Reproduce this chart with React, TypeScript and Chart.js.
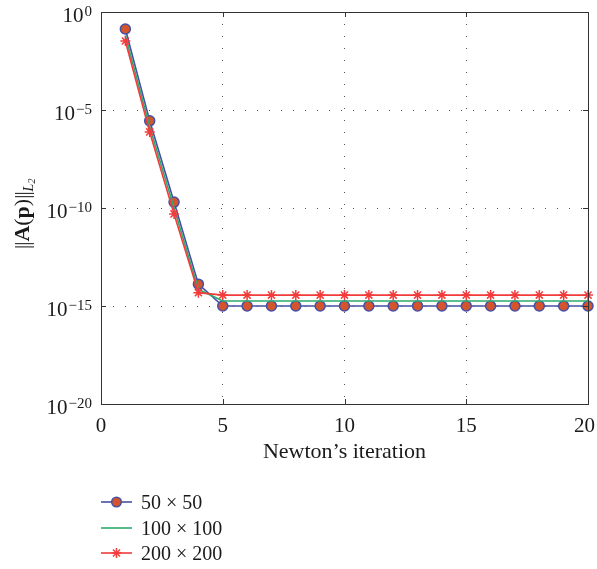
import React, { useEffect, useRef } from 'react';
import { Chart, registerables } from 'chart.js';

Chart.register(...registerables);

// ---- data ----
const iterations = [1, 2, 3, 4, 5, 6, 7, 8, 9, 10, 11, 12, 13, 14, 15, 16, 17, 18, 19, 20];
const res50 = [1.35e-1, 2.8e-6, 2.0e-10, 1.3e-14, 1.0e-15, 1.0e-15, 1.0e-15, 1.0e-15, 1.0e-15, 1.0e-15,
  1.0e-15, 1.0e-15, 1.0e-15, 1.0e-15, 1.0e-15, 1.0e-15, 1.0e-15, 1.0e-15, 1.0e-15, 1.0e-15];
const res100 = [6.3e-2, 1.4e-6, 1.0e-10, 7.1e-15, 1.8e-15, 1.8e-15, 1.8e-15, 1.8e-15, 1.8e-15, 1.8e-15,
  1.8e-15, 1.8e-15, 1.8e-15, 1.8e-15, 1.8e-15, 1.8e-15, 1.8e-15, 1.8e-15, 1.8e-15, 1.8e-15];
const res200 = [3.3e-2, 7.6e-7, 5.0e-11, 4.8e-15, 3.6e-15, 3.6e-15, 3.6e-15, 3.6e-15, 3.6e-15, 3.6e-15,
  3.6e-15, 3.6e-15, 3.6e-15, 3.6e-15, 3.6e-15, 3.6e-15, 3.6e-15, 3.6e-15, 3.6e-15, 3.6e-15];
const xTickValues = [0, 5, 10, 15, 20];
const yTickExponents = [0, -5, -10, -15, -20];
const seriesLabels = ['50 \u00d7 50', '100 \u00d7 100', '200 \u00d7 200'];
const xTitle = 'Newton\u2019s iteration';

const BLUE = '#4550a6';
const ORANGE = '#d4542b';
const GREEN = '#2eaa6c';
const RED = '#f23c3c';
const AXIS = '#333333';
const SERIF = '"Liberation Serif", "Times New Roman", serif';

function drawStar(ctx: CanvasRenderingContext2D, x: number, y: number, r: number) {
  for (let k = 0; k < 4; k++) {
    const a = (k * Math.PI) / 4;
    ctx.beginPath();
    ctx.moveTo(x - r * Math.cos(a), y - r * Math.sin(a));
    ctx.lineTo(x + r * Math.cos(a), y + r * Math.sin(a));
    ctx.stroke();
  }
}

const decorPlugin = {
  id: 'decor',
  afterDraw(chart: any) {
    const ctx: CanvasRenderingContext2D = chart.ctx;
    const { left, right, top, bottom } = chart.chartArea;
    const xs = chart.scales.x;
    const ys = chart.scales.y;
    ctx.save();
    // frame
    ctx.strokeStyle = AXIS;
    ctx.lineWidth = 1;
    ctx.setLineDash([]);
    ctx.strokeRect(Math.round(left) + 0.5, Math.round(top) + 0.5, Math.round(right - left), Math.round(bottom - top));
    // inward ticks
    const tl = 5;
    ctx.beginPath();
    xTickValues.forEach((v) => {
      const px = Math.round(xs.getPixelForValue(v)) + 0.5;
      ctx.moveTo(px, bottom);
      ctx.lineTo(px, bottom - tl);
      ctx.moveTo(px, top);
      ctx.lineTo(px, top + tl);
    });
    yTickExponents.forEach((e) => {
      const py = Math.round(ys.getPixelForValue(Math.pow(10, e))) + 0.5;
      ctx.moveTo(left, py);
      ctx.lineTo(left + tl, py);
      ctx.moveTo(right, py);
      ctx.lineTo(right - tl, py);
    });
    ctx.stroke();

    // x tick labels
    ctx.fillStyle = '#1a1a1a';
    ctx.textBaseline = 'alphabetic';
    ctx.font = `21px ${SERIF}`;
    ctx.textAlign = 'left';
    xTickValues.forEach((v) => {
      const px = xs.getPixelForValue(v);
      const s = String(v);
      const w = ctx.measureText(s).width;
      let x0 = px - w / 2;
      if (x0 + w > 595) x0 = 595 - w;
      ctx.fillText(s, x0, 432);
    });

    // y tick labels 10^e
    yTickExponents.forEach((e) => {
      const py = ys.getPixelForValue(Math.pow(10, e));
      const expStr = e === 0 ? '0' : '\u2212' + String(-e);
      ctx.font = `15px ${SERIF}`;
      const ew = ctx.measureText(expStr).width;
      const rightEdge = 92;
      ctx.textAlign = 'left';
      ctx.fillText(expStr, rightEdge - ew, py + 4);
      ctx.font = `21px ${SERIF}`;
      ctx.textAlign = 'right';
      ctx.fillText('10', rightEdge - ew - 1, py + 10);
    });

    // y axis title
    ctx.save();
    ctx.translate(29, 249);
    ctx.rotate(-Math.PI / 2);
    ctx.textAlign = 'left';
    const parts: [string, string, number, number][] = [
      ['|', `21px ${SERIF}`, 0, -1],
      ['|', `21px ${SERIF}`, 0, 0],
      ['A', `bold 22px ${SERIF}`, 0, 0],
      ['(', `22px ${SERIF}`, 0, 0],
      ['p', `bold 22px ${SERIF}`, 0, 0],
      [')', `22px ${SERIF}`, 0, 0],
      ['|', `21px ${SERIF}`, 0, -1],
      ['|', `21px ${SERIF}`, 0, 0],
      ['L', `italic 14px ${SERIF}`, 4, 0],
      ['2', `italic 10px ${SERIF}`, 6, 0],
    ];
    let cx = 0;
    parts.forEach(([t, f, dy, kern]) => {
      ctx.font = f;
      ctx.fillText(t, cx, dy);
      cx += ctx.measureText(t).width + kern;
    });
    ctx.restore();

    // legend
    const ly = [502, 528, 553];
    const colors = [BLUE, GREEN, RED];
    ctx.font = `20px ${SERIF}`;
    ctx.textAlign = 'left';
    ctx.fillStyle = '#1a1a1a';
    seriesLabels.forEach((lab, i) => {
      const y = ly[i];
      ctx.strokeStyle = colors[i];
      ctx.lineWidth = 1.6;
      ctx.beginPath();
      ctx.moveTo(101, y);
      ctx.lineTo(132, y);
      ctx.stroke();
      if (i === 0) {
        ctx.beginPath();
        ctx.arc(116.5, y, 4.8, 0, Math.PI * 2);
        ctx.fillStyle = ORANGE;
        ctx.fill();
        ctx.lineWidth = 1.5;
        ctx.strokeStyle = BLUE;
        ctx.stroke();
      } else if (i === 2) {
        ctx.lineWidth = 1.5;
        ctx.strokeStyle = RED;
        drawStar(ctx, 116.5, y, 5);
      }
      ctx.fillStyle = '#1a1a1a';
      ctx.fillText(lab, 141, y + 7);
    });
    ctx.restore();
  },
};

export default function App() {
  const canvasRef = useRef<HTMLCanvasElement | null>(null);

  useEffect(() => {
    document.body.style.margin = '0';
    const canvas = canvasRef.current;
    if (!canvas) return;
    const gridColor = (c: any) => {
      const v = c.tick ? c.tick.value : null;
      if (v === 0 || v === 20 || v === 1 || v === 1e-20) return 'rgba(0,0,0,0)';
      return '#555555';
    };
    const chart = new Chart(canvas, {
      type: 'line',
      data: {
        datasets: [
          {
            label: seriesLabels[0],
            data: iterations.map((x, i) => ({ x, y: res50[i] })),
            borderColor: BLUE,
            borderWidth: 1.6,
            pointStyle: 'circle',
            pointRadius: 5,
            pointBackgroundColor: ORANGE,
            pointBorderColor: BLUE,
            pointBorderWidth: 1.5,
            clip: false,
            order: 3,
          },
          {
            label: seriesLabels[1],
            data: iterations.map((x, i) => ({ x, y: res100[i] })),
            borderColor: GREEN,
            borderWidth: 1.6,
            pointRadius: 0,
            clip: false,
            order: 2,
          },
          {
            label: seriesLabels[2],
            data: iterations.map((x, i) => ({ x, y: res200[i] })),
            borderColor: RED,
            borderWidth: 1.6,
            pointStyle: 'star',
            pointRadius: 5,
            pointBackgroundColor: RED,
            pointBorderColor: RED,
            pointBorderWidth: 1.5,
            clip: false,
            order: 1,
          },
        ],
      },
      options: {
        animation: false,
        responsive: false,
        maintainAspectRatio: false,
        layout: { padding: { top: 12, right: 9, left: 0, bottom: 0 } },
        plugins: {
          legend: { display: false },
          tooltip: { enabled: false },
        },
        scales: {
          x: {
            type: 'linear',
            min: 0,
            max: 20,
            afterBuildTicks: (s: any) => {
              s.ticks = xTickValues.map((v) => ({ value: v }));
            },
            afterFit: (s: any) => {
              s.height = 165;
              s.paddingLeft = 0;
              s.paddingRight = 0;
            },
            grid: { color: gridColor, lineWidth: 1, drawTicks: false },
            border: { display: false, dash: [1, 11] },
            ticks: { display: false },
            title: {
              display: true,
              text: xTitle,
              color: '#1a1a1a',
              font: { family: SERIF, size: 22 },
              padding: { top: 0, bottom: 104 },
            },
          },
          y: {
            type: 'logarithmic',
            min: 1e-20,
            max: 1,
            afterBuildTicks: (s: any) => {
              s.ticks = yTickExponents.map((e) => ({ value: Math.pow(10, e) }));
            },
            afterFit: (s: any) => {
              s.width = 101;
              s.paddingTop = 0;
              s.paddingBottom = 0;
            },
            grid: { color: gridColor, lineWidth: 1, drawTicks: false },
            border: { display: false, dash: [1, 11] },
            ticks: { display: false },
          },
        },
      },
      plugins: [decorPlugin],
    });
    return () => chart.destroy();
  }, []);

  return (
    <div style={{ width: 597, height: 569 }}>
      <canvas ref={canvasRef} width={597} height={569} style={{ display: 'block', width: 597, height: 569 }} />
    </div>
  );
}
